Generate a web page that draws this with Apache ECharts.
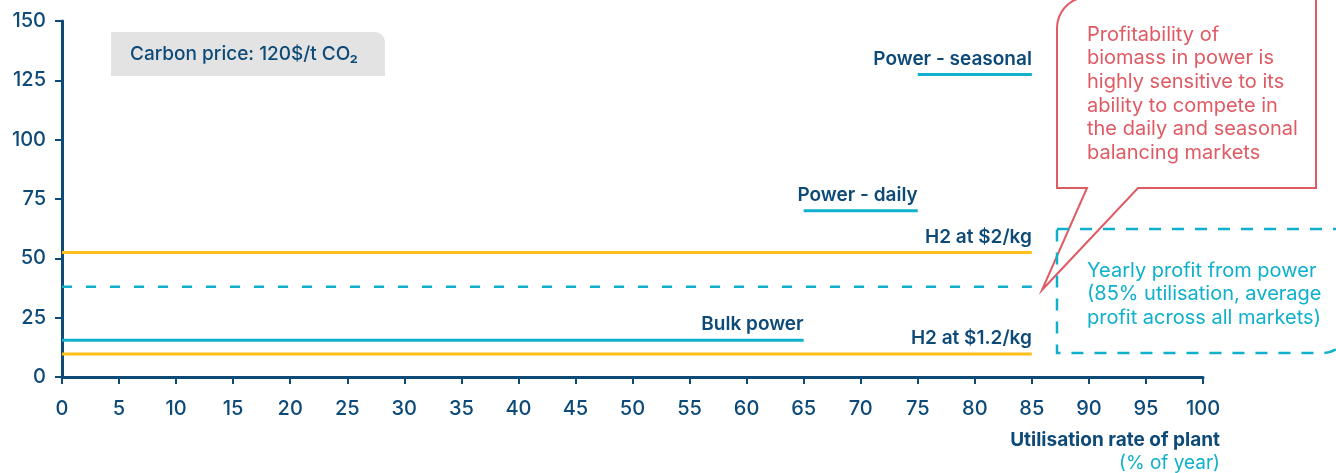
<!DOCTYPE html>
<html>
<head>
<meta charset="utf-8">
<script src="https://cdn.jsdelivr.net/npm/echarts@6/dist/echarts.min.js"></script>
<style>
  html, body { margin: 0; padding: 0; background: #fff; }
  #chart { width: 1336px; height: 473px; }
</style>
</head>
<body>
<div id="chart"></div>
<script>
// data
const seriesNames = ['Power - seasonal', 'Power - daily', 'H2 at $2/kg', 'Bulk power', 'H2 at $1.2/kg']
const xStart = [75, 65, 0, 0, 0]
const xEnd = [85, 75, 85, 65, 85]
const values = [127.5, 70, 52.5, 15.5, 9.7]
const profitLine = { name: 'Yearly profit from power', from: 0, to: 85, value: 38 }
const xTicks = [0, 100, 5]
const yTicks = [0, 150, 25]

const NAVY = '#0d4a78'
const CYAN = '#0fb0cb'
const YELLOW = '#fdbf1c'
const RED = '#e05a64'
const FONT = 'Inter'

const lineColors = [CYAN, CYAN, YELLOW, CYAN, YELLOW]

const chart = echarts.init(document.getElementById('chart'))

const series = seriesNames.map((name, i) => ({
  name,
  type: 'line',
  symbol: 'circle',
  symbolSize: 0.01,
  showSymbol: true,
  silent: true,
  lineStyle: { color: lineColors[i], width: 3 },
  itemStyle: { color: lineColors[i] },
  label: { show: false },
  data: [
    [xStart[i], values[i]],
    {
      value: [xEnd[i], values[i]],
      label: {
        show: true,
        position: 'top',
        align: 'right',
        distance: 6,
        formatter: name,
        color: NAVY,
        fontFamily: FONT,
        fontSize: 19,
        fontWeight: 600
      }
    }
  ]
}))

series.push({
  name: profitLine.name,
  type: 'line',
  symbol: 'none',
  silent: true,
  lineStyle: { color: CYAN, width: 2.5, type: [10, 14] },
  data: [[profitLine.from, profitLine.value], [profitLine.to, profitLine.value]]
})

// outline of the speech bubble (rounded top-left corner + tail)
const bubble = []
for (let a = 180; a <= 270; a += 10) {
  const r = a * Math.PI / 180
  bubble.push([1088 + 31 * Math.cos(r), 28 + 31 * Math.sin(r)])
}
bubble.push([1316, -3], [1316, 188], [1138, 188], [1042, 290], [1087, 188], [1057, 188])

const option = {
  animation: false,
  grid: { left: 62, right: 133, top: 21, bottom: 96, containLabel: false },
  xAxis: {
    type: 'value',
    min: xTicks[0],
    max: xTicks[1],
    interval: xTicks[2],
    axisLine: { show: true, lineStyle: { color: NAVY, width: 3 } },
    axisTick: { show: true, length: 7, lineStyle: { color: NAVY, width: 2 } },
    axisLabel: { color: NAVY, fontFamily: FONT, fontSize: 20, fontWeight: 500, margin: 22 },
    splitLine: { show: false }
  },
  yAxis: {
    type: 'value',
    min: yTicks[0],
    max: yTicks[1],
    interval: yTicks[2],
    axisLine: { show: true, lineStyle: { color: NAVY, width: 3 } },
    axisTick: { show: true, length: 7, lineStyle: { color: NAVY, width: 2 } },
    axisLabel: { color: NAVY, fontFamily: FONT, fontSize: 20, fontWeight: 500, margin: 16 },
    splitLine: { show: false }
  },
  series,
  graphic: [
    // carbon price tag
    {
      type: 'rect',
      shape: { x: 111, y: 32, width: 274, height: 44, r: [0, 10, 0, 0] },
      style: { fill: '#e3e3e3' }
    },
    {
      type: 'text',
      x: 130, y: 54,
      style: {
        text: 'Carbon price: 120$/t CO₂',
        fill: NAVY, font: '500 19px Inter', verticalAlign: 'middle'
      }
    },
    // red speech bubble
    {
      type: 'polygon',
      shape: { points: bubble },
      style: { fill: '#fff', stroke: RED, lineWidth: 2 }
    },
    {
      type: 'text',
      x: 1087, y: 23,
      style: {
        text: 'Profitability of\nbiomass in power is\nhighly sensitive to its\nability to compete in\nthe daily and seasonal\nbalancing markets',
        fill: RED, font: '20px Inter', lineHeight: 23.6
      }
    },
    // dashed profit box
    {
      type: 'rect',
      shape: { x: 1057, y: 229, width: 290, height: 124, r: [0, 0, 24, 0] },
      style: { fill: 'none', stroke: CYAN, lineWidth: 2.5, lineDash: [12, 11] }
    },
    {
      type: 'text',
      x: 1087, y: 259,
      style: {
        text: 'Yearly profit from power\n(85% utilisation, average\nprofit across all markets)',
        fill: CYAN, font: '20px Inter', lineHeight: 23.6
      }
    },
    // x axis name
    {
      type: 'text',
      x: 1220, y: 440,
      style: {
        text: 'Utilisation rate of plant',
        fill: NAVY, font: '700 19px Inter', align: 'right', verticalAlign: 'middle'
      }
    },
    {
      type: 'text',
      x: 1220, y: 463,
      style: {
        text: '(% of year)',
        fill: CYAN, font: '19px Inter', align: 'right', verticalAlign: 'middle'
      }
    }
  ]
}

chart.setOption(option)
window.addEventListener('resize', () => chart.resize())
</script>
</body>
</html>
